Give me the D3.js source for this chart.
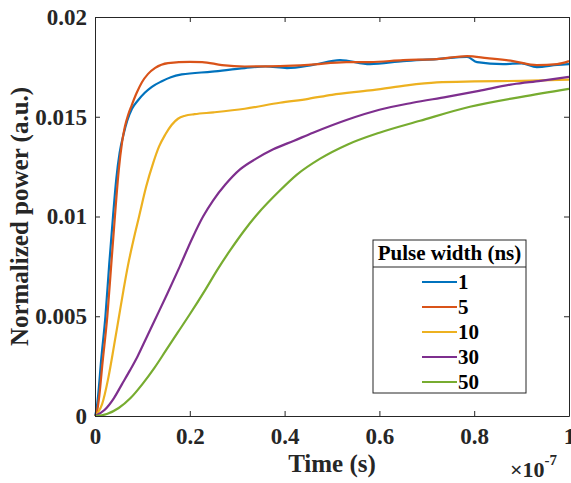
<!DOCTYPE html>
<html>
<head>
<meta charset="utf-8">
<script src="https://cdn.jsdelivr.net/npm/d3@7"></script>
<style>
  body { margin: 0; background: #fff; }
  svg text { font-family: "Liberation Serif", "Times New Roman", Tinos, "DejaVu Serif", serif; font-weight: bold; }
</style>
</head>
<body>
<svg id="chart"></svg>
<script>
// time in units of 1e-7 s, power in a.u.
const pulseWidths = ["1", "5", "10", "30", "50"];
const colors = ["#0072BD", "#D95319", "#EDB120", "#7E2F8E", "#77AC30"];

const xTicks = [0, 0.2, 0.4, 0.6, 0.8, 1];
const xTickLabels = ["0", "0.2", "0.4", "0.6", "0.8", "1"];
const yTicks = [0, 0.005, 0.01, 0.015, 0.02];
const yTickLabels = ["0", "0.005", "0.01", "0.015", "0.02"];

const pw1 = [[0,0],[0.003,0.0003],[0.0065,0.001],[0.013,0.0028],[0.022,0.005],[0.03,0.0076],[0.038,0.01],[0.045,0.0119],[0.052,0.0132],[0.06,0.0141],[0.068,0.0148],[0.078,0.0154],[0.09,0.0158],[0.105,0.0162],[0.12,0.0165],[0.141,0.01678],[0.16,0.01698],[0.183,0.01712],[0.247,0.01726],[0.316,0.01744],[0.36,0.01752],[0.405,0.01744],[0.46,0.0176],[0.517,0.01784],[0.58,0.01764],[0.65,0.01779],[0.721,0.01789],[0.785,0.018],[0.806,0.01774],[0.861,0.01764],[0.9,0.01768],[0.932,0.01749],[0.975,0.0176],[1.0,0.01764]];
const pw5 = [[0,0],[0.004,0.0002],[0.009,0.001],[0.016,0.0027],[0.026,0.005],[0.034,0.0075],[0.042,0.01],[0.05,0.0123],[0.057,0.0137],[0.063,0.0145],[0.07,0.0151],[0.077,0.01555],[0.088,0.0162],[0.099,0.01673],[0.112,0.01715],[0.127,0.01745],[0.154,0.01769],[0.2,0.01775],[0.226,0.01774],[0.268,0.01759],[0.316,0.01752],[0.39,0.01754],[0.45,0.0176],[0.53,0.01774],[0.58,0.01774],[0.65,0.01784],[0.721,0.01789],[0.785,0.01804],[0.827,0.01794],[0.882,0.01779],[0.932,0.01759],[0.975,0.01764],[1.0,0.01779]];
const pw10 = [[0,0],[0.007,0.0002],[0.015,0.0006],[0.028,0.0019],[0.04,0.0035],[0.05,0.0049],[0.06,0.0063],[0.07,0.0076],[0.08,0.0087],[0.093,0.01],[0.108,0.0115],[0.123,0.0127],[0.135,0.0135],[0.148,0.0141],[0.162,0.0146],[0.175,0.0149],[0.19,0.01505],[0.21,0.01513],[0.25,0.01522],[0.316,0.0154],[0.39,0.0157],[0.45,0.0159],[0.5,0.0161],[0.58,0.01632],[0.65,0.01655],[0.721,0.01672],[0.8,0.01677],[0.9,0.0168],[1.0,0.01686]];
const pw30 = [[0,0],[0.02,0.0003],[0.04,0.0009],[0.057,0.0016],[0.074,0.0023],[0.09,0.003],[0.108,0.0039],[0.126,0.0048],[0.152,0.0061],[0.179,0.0075],[0.205,0.0089],[0.228,0.01],[0.249,0.0108],[0.275,0.0116],[0.306,0.01236],[0.34,0.0129],[0.376,0.01337],[0.42,0.0138],[0.46,0.0142],[0.532,0.01485],[0.6,0.01535],[0.67,0.0157],[0.742,0.016],[0.81,0.0163],[0.882,0.01663],[0.94,0.0168],[1.0,0.017]];
const pw50 = [[0,0],[0.025,0.0001],[0.05,0.0004],[0.075,0.0009],[0.1,0.0016],[0.125,0.0024],[0.15,0.0033],[0.175,0.0042],[0.2,0.0051],[0.232,0.0063],[0.26,0.0074],[0.285,0.0083],[0.315,0.0093],[0.342,0.0101],[0.39,0.0113],[0.426,0.0121],[0.475,0.0129],[0.532,0.0136],[0.6,0.0142],[0.686,0.0148],[0.791,0.0155],[0.9,0.016],[1.0,0.0164]];
const series = [pw1, pw5, pw10, pw30, pw50];

const width = 571, height = 483;
const margin = { top: 17, right: 2, bottom: 67, left: 95 };
const axisColor = "#262626";

const svg = d3.select("#chart").attr("width", width).attr("height", height);

const x = d3.scaleLinear().domain([0, 1]).range([margin.left, width - margin.right]);
const y = d3.scaleLinear().domain([0, 0.02]).range([height - margin.bottom, margin.top]);

// curves
const line = d3.line().x(d => x(d[0])).y(d => y(d[1])).curve(d3.curveMonotoneX);
svg.append("g")
    .selectAll("path")
    .data(series)
    .enter().append("path")
    .attr("d", line)
    .attr("fill", "none")
    .attr("stroke", (d, i) => colors[i])
    .attr("stroke-width", 2.2);

// axes (box with inward ticks)
const tickLen = 5;
const axB = svg.append("g").attr("transform", `translate(0,${y(0)})`)
    .call(d3.axisBottom(x).tickValues(xTicks).tickSizeInner(-tickLen).tickSizeOuter(0).tickPadding(12)
        .tickFormat((d, i) => xTickLabels[i]));
const axT = svg.append("g").attr("transform", `translate(0,${y(0.02)})`)
    .call(d3.axisTop(x).tickValues(xTicks).tickSizeInner(-tickLen).tickSizeOuter(0).tickFormat(""));
const axL = svg.append("g").attr("transform", `translate(${x(0)},0)`)
    .call(d3.axisLeft(y).tickValues(yTicks).tickSizeInner(-tickLen).tickSizeOuter(0).tickPadding(8)
        .tickFormat((d, i) => yTickLabels[i]));
const axR = svg.append("g").attr("transform", `translate(${x(1)},0)`)
    .call(d3.axisRight(y).tickValues(yTicks).tickSizeInner(-tickLen).tickSizeOuter(0).tickFormat(""));

[axB, axT, axL, axR].forEach(g => {
    g.attr("font-family", null).attr("font-size", null);
    g.select(".domain").attr("stroke", axisColor).attr("stroke-width", 1);
    g.selectAll(".tick line").attr("stroke", axisColor);
    g.selectAll("text").attr("fill", axisColor).style("font-size", "23px");
});
axB.selectAll("text").attr("dy", "0.71em");

// axis labels
svg.append("text")
    .attr("x", (x(0) + x(1)) / 2).attr("y", 472)
    .attr("text-anchor", "middle").attr("fill", axisColor)
    .style("font-size", "25px")
    .text("Time (s)");

svg.append("text")
    .attr("transform", `translate(28,${(y(0) + y(0.02)) / 2}) rotate(-90)`)
    .attr("text-anchor", "middle").attr("fill", axisColor)
    .style("font-size", "25px")
    .text("Normalized power (a.u.)");

// exponent
const expo = svg.append("text").attr("x", 510).attr("y", 477).attr("fill", axisColor).style("font-size", "22px");
expo.append("tspan").text("\u00d710");
expo.append("tspan").attr("dy", -12).style("font-size", "15px").text("-7");

// legend
const lg = svg.append("g");
const lx0 = 373, lx1 = 526, ly0 = 240, ly1 = 393, lsep = 267;
lg.append("rect").attr("x", lx0).attr("y", ly0).attr("width", lx1 - lx0).attr("height", ly1 - ly0)
    .attr("fill", "#fff").attr("stroke", axisColor).attr("stroke-width", 1);
lg.append("line").attr("x1", lx0).attr("x2", lx1).attr("y1", lsep).attr("y2", lsep)
    .attr("stroke", axisColor).attr("stroke-width", 1);
lg.append("text").attr("x", (lx0 + lx1) / 2).attr("y", 260).attr("text-anchor", "middle")
    .attr("fill", "#000").style("font-size", "21px").text("Pulse width (ns)");

const entry = lg.selectAll(".entry").data(pulseWidths).enter().append("g")
    .attr("class", "entry")
    .attr("transform", (d, i) => `translate(0,${282 + i * 25})`);
entry.append("line").attr("x1", 422).attr("x2", 457).attr("y1", 0).attr("y2", 0)
    .attr("stroke", (d, i) => colors[i]).attr("stroke-width", 2.2);
entry.append("text").attr("x", 458).attr("y", 0).attr("dy", "0.35em")
    .attr("fill", "#000").style("font-size", "21px").text(d => d);
</script>
</body>
</html>
